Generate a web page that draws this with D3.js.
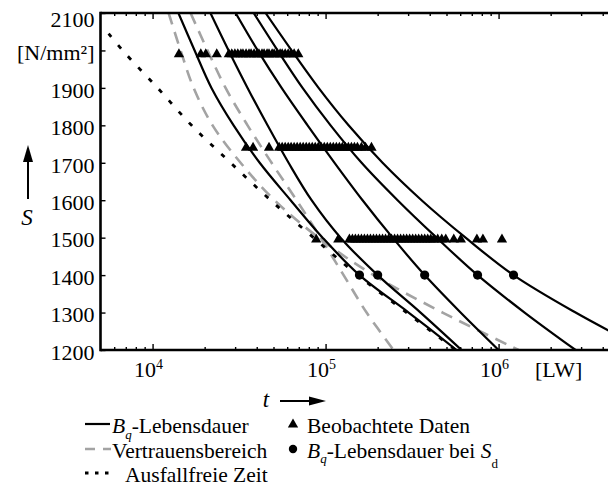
<!DOCTYPE html>
<html>
<head>
<meta charset="utf-8">
<script src="https://cdn.jsdelivr.net/npm/d3@7"></script>
<style>
  html, body { margin: 0; padding: 0; background: #fff; }
  svg { display: block; font-family: "Liberation Serif", "Times New Roman", serif; }
</style>
</head>
<body>
<svg id="chart" width="608" height="498"></svg>
<script>
// Stress levels (N/mm²) at which the lifetime curves are tabulated
const stressLevels = [2100, 2000, 1900, 1800, 1700, 1600, 1500, 1400, 1300, 1200];

// B_q lifetime curves: load cycles reached at each stress level
const bqCurve1 = [14100, 17500, 21900, 29400, 41600, 62800, 96100, 157000, 302000, 572000];
const bqCurve2 = [21600, 27500, 35400, 46200, 61100, 83000, 122000, 200000, 354000, 611000];
const bqCurve3 = [30200, 40500, 55700, 78700, 112700, 163600, 243900, 374000, 603000, 1000000];
const bqCurve4 = [38400, 52800, 73600, 106900, 161500, 260700, 438200, 756000, 1414000, 2787000];
const bqCurve5 = [45000, 63600, 91100, 135800, 213500, 358800, 644500, 1220000, 2787000, 7075000];

// Confidence bounds around the lowest B_q curve
const confBound1 = [12380, 14520, 17260, 22220, 32260, 50720, 91100, 189400, 474600, 1305000];
const confBound2 = [16580, 20790, 26420, 35400, 48740, 67980, 93560, 127100, 172600, 247200];

// Failure-free time
const failFreeStress = [2045, 2000, 1900, 1800, 1700, 1600, 1500, 1400, 1300, 1200];
const failFreeTime = [5570, 6710, 10690, 16800, 28240, 48100, 85200, 153100, 293900, 564200];

// Observed failures at three test stress levels
const obsStress = [1990, 1740, 1495];
const obsLevel1 = [14200, 19000, 20300, 23500, 27600, 28700, 29900, 31100, 32400, 33300, 34700,
  36100, 37100, 38600, 40200, 41200, 42900, 44100, 45900, 47100, 49100, 50400, 52500, 54600,
  56100, 58400, 60800, 63200, 65800, 69500];
const obsLevel2 = [34700, 38100, 47100, 53900, 56100, 58400, 60800, 63200, 65800, 68500, 71300,
  74200, 77300, 80400, 83700, 87100, 90700, 94400, 98300, 102300, 106500, 110800, 115400, 120100,
  125000, 130100, 135400, 141000, 146800, 152800, 161100, 170000, 184200];
const obsLevel3 = [88300, 118500, 137300, 142900, 148700, 154800, 161100, 167700, 174600, 181700,
  189200, 196900, 205000, 213300, 222100, 231200, 240600, 250500, 260700, 271400, 282500, 294100,
  306100, 318600, 331600, 345100, 359300, 374000, 389300, 405200, 421800, 444900, 469300, 495100,
  550900, 605000, 749300, 812000, 1046000];

// B_q lifetimes at the endurance stress S_d
const sdStress = 1400;
const bqAtSd = [157000, 200000, 374000, 756000, 1220000];

// Axis ticks
const yTicks = [1200, 1300, 1400, 1500, 1600, 1700, 1800, 1900, 2000, 2100];
const yTickLabels = ["1200", "1300", "1400", "1500", "1600", "1700", "1800", "1900", "[N/mm²]", "2100"];
const xMajorTicks = [1e4, 1e5, 1e6];
const xTickExponents = ["4", "5", "6"];

const svg = d3.select("#chart");
const FONT = '"Liberation Serif", "Times New Roman", serif';

const plot = { left: 100.5, top: 13, bottom: 350, decade: 173 };
const x = d3.scaleLog().domain([5000, 5e6]).range([plot.left, plot.left + 3 * plot.decade]);
const y = d3.scaleLinear().domain([1200, 2100]).range([plot.bottom, plot.top]);

svg.append("defs").append("clipPath").attr("id", "plotClip")
  .append("rect")
  .attr("x", plot.left).attr("y", plot.top)
  .attr("width", x.range()[1] - plot.left).attr("height", plot.bottom - plot.top);

const layer = svg.append("g").attr("clip-path", "url(#plotClip)");

const line = d3.line()
  .x(d => x(d[1]))
  .y(d => y(d[0]))
  .curve(d3.curveCatmullRom.alpha(0.5));

const pairs = (s, t) => s.map((v, i) => [v, t[i]]);

// confidence band (grey dashed)
[confBound1, confBound2].forEach(c => {
  layer.append("path")
    .attr("d", line(pairs(stressLevels, c)))
    .attr("fill", "none")
    .attr("stroke", "#a3a3a3")
    .attr("stroke-width", 2.6)
    .attr("stroke-dasharray", "12,8");
});

// failure-free time (dotted)
layer.append("path")
  .attr("d", line(pairs(failFreeStress, failFreeTime)))
  .attr("fill", "none")
  .attr("stroke", "#000")
  .attr("stroke-width", 2.8)
  .attr("stroke-dasharray", "4.5,10.5");

// B_q curves
[bqCurve1, bqCurve2, bqCurve3, bqCurve4, bqCurve5].forEach(c => {
  layer.append("path")
    .attr("d", line(pairs(stressLevels, c)))
    .attr("fill", "none")
    .attr("stroke", "#000")
    .attr("stroke-width", 2.2);
});

// observed data
const tri = d3.symbol(d3.symbolTriangle, 46);
[obsLevel1, obsLevel2, obsLevel3].forEach((row, i) => {
  layer.append("g").selectAll("path")
    .data(row)
    .join("path")
    .attr("d", tri)
    .attr("transform", d => `translate(${x(d)},${y(obsStress[i])})`)
    .attr("fill", "#000");
});

// B_q lifetime at S_d
layer.append("g").selectAll("circle")
  .data(bqAtSd)
  .join("circle")
  .attr("cx", d => x(d))
  .attr("cy", y(sdStress))
  .attr("r", 4.6)
  .attr("fill", "#000");

// ---- axes ----
const majorSet = new Set(xMajorTicks);
const xMinor = x.ticks().filter(v => !majorSet.has(v) && v > x.domain()[0]);

function styleTicks(g) {
  g.select(".domain").remove();
  g.selectAll(".tick line").attr("stroke", "#000").attr("stroke-width", 1.4);
}

svg.append("g").attr("transform", `translate(0,${plot.bottom})`)
  .call(d3.axisBottom(x).tickValues(xMinor).tickSize(-3).tickFormat(""))
  .call(styleTicks);
svg.append("g").attr("transform", `translate(0,${plot.bottom})`)
  .call(d3.axisBottom(x).tickValues(xMajorTicks).tickSize(-6).tickFormat(""))
  .call(styleTicks);
svg.append("g").attr("transform", `translate(0,${plot.top})`)
  .call(d3.axisTop(x).tickValues(xMinor).tickSize(-3).tickFormat(""))
  .call(styleTicks);
svg.append("g").attr("transform", `translate(0,${plot.top})`)
  .call(d3.axisTop(x).tickValues(xMajorTicks).tickSize(-6).tickFormat(""))
  .call(styleTicks);

const yAxis = svg.append("g").attr("transform", `translate(${plot.left},0)`)
  .call(d3.axisLeft(y).tickValues(yTicks).tickSize(-5).tickPadding(6)
    .tickFormat((d, i) => yTickLabels[i]))
  .call(styleTicks);
// the topmost label sits a little lower so it stays level with the frame
yAxis.selectAll(".tick text")
  .attr("font-family", FONT).attr("font-size", 22).attr("fill", "#000")
  .attr("dy", d => d === y.domain()[1] ? "0.62em" : "0.42em");

// x tick labels as powers of ten
const xLab = svg.append("g").attr("font-family", FONT).attr("fill", "#000");
xMajorTicks.forEach((v, i) => {
  const t = xLab.append("text")
    .attr("x", x(v) - 4).attr("y", 377)
    .attr("text-anchor", "middle").attr("font-size", 22);
  t.append("tspan").text("10");
  t.append("tspan").attr("font-size", 14).attr("dy", -8).text(xTickExponents[i]);
});

// frame
const frame = svg.append("g").attr("stroke", "#000").attr("stroke-width", 2.6);
frame.append("line").attr("x1", plot.left).attr("x2", plot.left).attr("y1", plot.top - 1.3).attr("y2", plot.bottom + 1.3);
frame.append("line").attr("x1", plot.left).attr("x2", x.range()[1]).attr("y1", plot.top).attr("y2", plot.top);
frame.append("line").attr("x1", plot.left).attr("x2", x.range()[1]).attr("y1", plot.bottom).attr("y2", plot.bottom);

// unit of the time axis
svg.append("text").attr("x", 535).attr("y", 377)
  .attr("font-family", FONT).attr("font-size", 22).text("[LW]");

// axis titles with arrows
svg.append("text").attr("x", 27).attr("y", 225).attr("text-anchor", "middle")
  .attr("font-family", FONT).attr("font-size", 23).attr("font-style", "italic").text("S");
svg.append("line").attr("x1", 28).attr("x2", 28).attr("y1", 199).attr("y2", 158)
  .attr("stroke", "#000").attr("stroke-width", 2);
svg.append("path").attr("d", "M28,145 L23,162 L33,162 Z").attr("fill", "#000");

svg.append("text").attr("x", 266).attr("y", 407).attr("text-anchor", "middle")
  .attr("font-family", FONT).attr("font-size", 23).attr("font-style", "italic").text("t");
svg.append("line").attr("x1", 280).attr("x2", 312).attr("y1", 401).attr("y2", 401)
  .attr("stroke", "#000").attr("stroke-width", 2);
svg.append("path").attr("d", "M326,401 L309,396.5 L309,405.5 Z").attr("fill", "#000");

// ---- legend ----
const leg = svg.append("g").attr("font-family", FONT).attr("font-size", 21.5).attr("fill", "#000");
const rowY = [433, 457.5, 481.5];

leg.append("line").attr("x1", 85).attr("x2", 110).attr("y1", rowY[0] - 9).attr("y2", rowY[0] - 9)
  .attr("stroke", "#000").attr("stroke-width", 2.2);
leg.append("line").attr("x1", 85).attr("x2", 111).attr("y1", rowY[1] - 8.5).attr("y2", rowY[1] - 8.5)
  .attr("stroke", "#a3a3a3").attr("stroke-width", 2.6).attr("stroke-dasharray", "10,8");
leg.append("line").attr("x1", 85).attr("x2", 111).attr("y1", rowY[2] - 8.5).attr("y2", rowY[2] - 8.5)
  .attr("stroke", "#000").attr("stroke-width", 2.8).attr("stroke-dasharray", "3.5,6.5");

function bqLabel(sel, xPos, yPos, rest) {
  const t = sel.append("text").attr("x", xPos).attr("y", yPos);
  t.append("tspan").attr("font-style", "italic").text("B");
  t.append("tspan").attr("font-style", "italic").attr("font-size", 13).attr("dy", 5.5).text("q");
  t.append("tspan").attr("dy", -5.5).text(rest);
  return t;
}
bqLabel(leg, 112, rowY[0], "-Lebensdauer");
leg.append("text").attr("x", 112).attr("y", rowY[1]).text("Vertrauensbereich");
leg.append("text").attr("x", 125).attr("y", rowY[2]).text("Ausfallfreie Zeit");

leg.append("path").attr("d", d3.symbol(d3.symbolTriangle, 46)())
  .attr("transform", `translate(293,${rowY[0] - 8.5})`);
leg.append("text").attr("x", 307).attr("y", rowY[0]).text("Beobachtete Daten");
leg.append("circle").attr("cx", 293).attr("cy", rowY[1] - 8.5).attr("r", 4.2);
const sdText = bqLabel(leg, 307, rowY[1], "-Lebensdauer bei ");
sdText.append("tspan").attr("font-style", "italic").text("S");
sdText.append("tspan").attr("font-size", 13).attr("dy", 10).text("d");
</script>
</body>
</html>
